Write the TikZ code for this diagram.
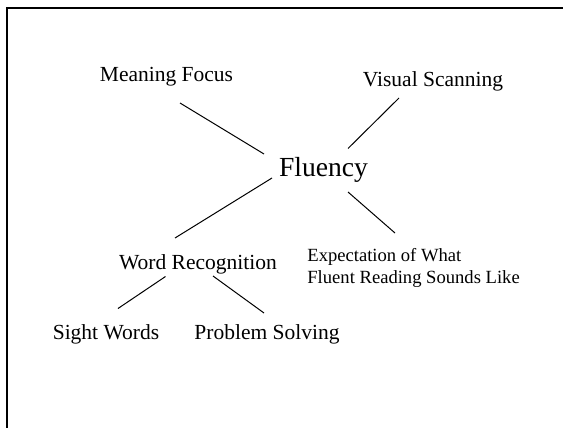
\documentclass[tikz,border=0pt]{standalone}
\usepackage{fontspec}
\setmainfont{Liberation Serif}
\usepackage{tikz}

\begin{document}
\begin{tikzpicture}[
    x=0.5pt, y=-0.5pt,
    every node/.style={font=\fontsize{10.75}{12}\selectfont, inner sep=0pt, anchor=base},
    link/.style={line width=0.5pt},
    small/.style={font=\fontsize{9.3}{7.2}\selectfont}
]
\useasboundingbox (0,0) rectangle (563,428);

% Frame
\draw[line width=1pt] (6.8,428) -- (6.8,8) -- (563,8);

% Centre
\node[font=\fontsize{13.8}{16}\selectfont] (fl) at (323.5,176.5) {Fluency};

% Branches
\node (mf) at (166.5,82) {Meaning Focus};
\node (vs) at (433,86) {Visual Scanning};
\node (wr) at (198,269) {Word Recognition};
\node[small, anchor=base west, align=left] (ex) at (307,283)
    {Expectation of What\\[1.15pt]Fluent Reading Sounds Like};
\node (sw) at (106,339) {Sight Words};
\node (ps) at (267,339) {Problem Solving};

% Links
\draw[link] ([shift={(13.5,21)}]mf.base) -- ([shift={(-59.5,-22.5)}]fl.base);
\draw[link] ([shift={(-34,12)}]vs.base) -- ([shift={(24.5,-28)}]fl.base);
\draw[link] ([shift={(-51.5,1.5)}]fl.base) -- ([shift={(-23,-31)}]wr.base);
\draw[link] ([shift={(24.5,15.5)}]fl.base) -- ([shift={(88,-50)}]ex.base west);
\draw[link] ([shift={(-32.5,7.5)}]wr.base) -- ([shift={(12,-30.5)}]sw.base);
\draw[link] ([shift={(15,7)}]wr.base) -- ([shift={(-3,-26)}]ps.base);

\end{tikzpicture}
\end{document}
